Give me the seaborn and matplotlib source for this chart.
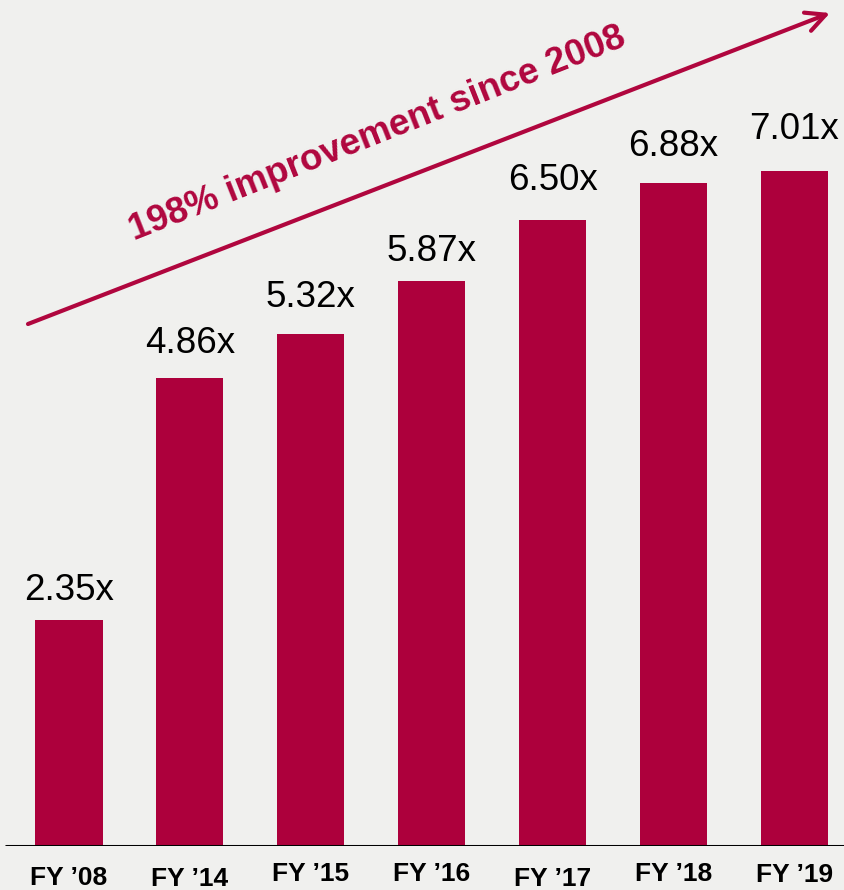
import matplotlib
matplotlib.use("Agg")
import matplotlib.pyplot as plt
import matplotlib.transforms as mtransforms
import seaborn as sns
import pandas as pd

categories = ["FY \u201908", "FY \u201914", "FY \u201915", "FY \u201916", "FY \u201917", "FY \u201918", "FY \u201919"]
values = [2.35, 4.86, 5.32, 5.87, 6.50, 6.88, 7.01]
value_labels = ["2.35x", "4.86x", "5.32x", "5.87x", "6.50x", "6.88x", "7.01x"]
headline = "198% improvement since 2008"

# styling (label offsets in pixels)
value_gap_px = [20, 25, 27, 20, 30, 27, 32]
tick_shift_px = [4, 5, 0, 0, 5, 0, 1]

BG = "#F0F0EE"
BAR = "#AD003C"
ACCENT = "#B0063E"

sns.set_theme(style="white")
plt.rcParams["font.family"] = ["Liberation Sans", "DejaVu Sans"]

DPI = 100
fig = plt.figure(figsize=(8.44, 8.90), dpi=DPI, facecolor=BG)
ax = fig.add_axes([0, 44 / 890, 1, 846 / 890])
ax.set_facecolor(BG)

df = pd.DataFrame({"cat": categories, "val": values})
sns.barplot(data=df, x="cat", y="val", color=BAR, saturation=1, width=0.555,
            linewidth=0, edgecolor=BAR, ax=ax)

ax.set_xlim(-0.571, 6.41)
ax.set_ylim(0, 8.785)
for s in ax.spines.values():
    s.set_visible(False)
ax.set_yticks([])
ax.set_xlabel("")
ax.set_ylabel("")
ax.tick_params(axis="x", length=0, pad=11.5)
ax.set_xticks(range(len(categories)))
ax.set_xticklabels(categories, fontsize=19, fontweight="bold", color="black")
for lab, sh in zip(ax.get_xticklabels(), tick_shift_px):
    lab.set_transform(lab.get_transform() + mtransforms.Affine2D().translate(0, -sh))

ax.axhline(0, xmin=6 / 844, xmax=1, color="black", lw=2.2, zorder=5)

for i, (v, lbl, g) in enumerate(zip(values, value_labels, value_gap_px)):
    ax.annotate(lbl, xy=(i, v), xytext=(0, g * 72 / DPI), textcoords="offset points",
                ha="center", va="baseline", fontsize=26.5, color="black")

ax.annotate("", xy=(830 / 844, (846 - 13) / 846), xycoords="axes fraction",
            xytext=(28 / 844, (846 - 324) / 846), textcoords="axes fraction",
            arrowprops=dict(arrowstyle="->,head_length=0.7,head_width=0.35",
                            mutation_scale=20, lw=3, color=ACCENT,
                            shrinkA=0, shrinkB=0))

ax.text(377 / 844, (846 - 134) / 846, headline, transform=ax.transAxes,
        rotation=21.6, rotation_mode="anchor", ha="center", va="center",
        fontsize=26.5, fontweight="bold", color=ACCENT)

fig.savefig("out.png", dpi=DPI, facecolor=BG)
